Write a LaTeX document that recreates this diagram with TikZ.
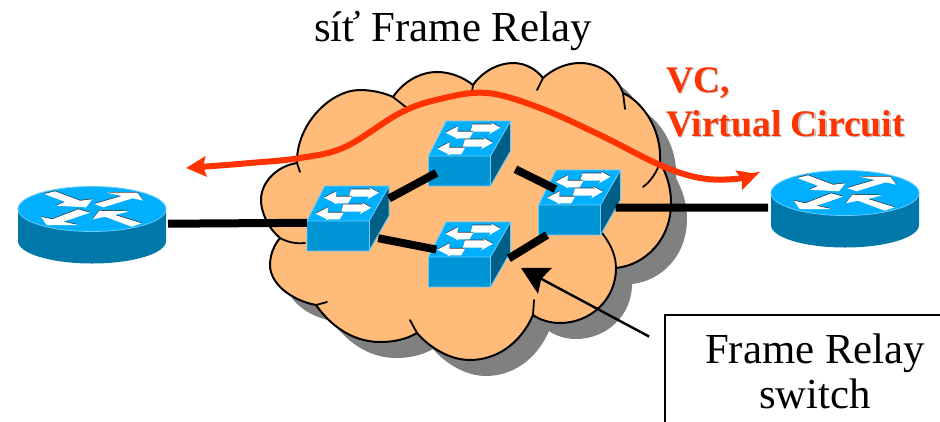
\documentclass[tikz,border=0pt]{standalone}
\usepackage{fontspec}
\setmainfont{Liberation Serif}
\usetikzlibrary{arrows.meta, positioning}
\definecolor{cloudfill}{HTML}{FFBB7A}
\definecolor{cloudshadow}{HTML}{808080}
\definecolor{vcred}{HTML}{FF3300}
\definecolor{icontop}{HTML}{00B0FF}
\definecolor{iconfront}{HTML}{0095D5}
\definecolor{iconside}{HTML}{005F87}
\definecolor{iconedge}{HTML}{66CCFF}
\definecolor{routerside}{HTML}{0078AA}
\tikzset{
  swbox/.style={rectangle, minimum width=82pt, minimum height=65pt, inner sep=0pt, outer sep=0pt},
  rtbox/.style={rectangle, minimum width=148pt, minimum height=77pt, inner sep=0pt, outer sep=0pt},
  link/.style={line width=8pt, black},
  curl/.style={line width=1.8pt, black, line cap=round},
  vcline/.style={line width=6pt, vcred, {Stealth[length=20pt,width=20pt,inset=3pt]}-{Stealth[length=20pt,width=20pt,inset=3pt]}},
  pointer/.style={line width=2.4pt, black, -{Stealth[length=27pt,width=29pt,inset=4pt]}},
  bigtext/.style={font=\fontsize{42.8}{45}\selectfont, align=center, inner sep=0pt},
  vctext/.style={font=\bfseries\fontsize{37.5}{44}\selectfont, align=left, inner sep=0pt, anchor=base west},
}
\newcommand{\cloudpath}{
  (297,163) .. controls (296,125) and (330,90) .. (360,90) .. controls (372,90) and (385,93) .. (393,97)
  .. controls (403,82) and (420,72) .. (437,72) .. controls (450,72) and (463,77) .. (473,85)
  .. controls (482,72) and (498,63) .. (513,63) .. controls (525,63) and (536,69) .. (543,78)
  .. controls (553,69) and (566,63) .. (580,63) .. controls (600,63) and (617,76) .. (623,93)
  .. controls (643,102) and (662,130) .. (660,162)
  .. controls (667,175) and (671,188) .. (671,203) .. controls (671,240) and (645,265) .. (616,268)
  .. controls (616,300) and (590,323) .. (560,323) .. controls (550,323) and (540,320) .. (533,315)
  .. controls (520,345) and (495,360) .. (470,360) .. controls (450,360) and (430,348) .. (417,333)
  .. controls (405,340) and (392,342) .. (380,342) .. controls (352,342) and (330,325) .. (316,305)
  .. controls (290,300) and (270,283) .. (270,265) .. controls (270,255) and (274,245) .. (280,238)
  .. controls (268,228) and (261,212) .. (261,200) .. controls (261,182) and (277,166) .. (297,163)
  -- cycle}
\newcommand{\swright}{(0,0)--(-10,-5.5)--(-8,-3.4)--(-28,-3.4)--(-30,3.8)--(-10,3.8)--(-12,6.8)--cycle}
\newcommand{\swleft}{(0,0)--(12.5,-6.5)--(12,-1.2)--(28,-1.2)--(24,5.7)--(10,5.7)--(13,6.5)--cycle}
\newcommand{\rtarrowa}{(-48,-31) -- (-37,-33.7) -- (-12,-24.3) -- (0.3,-25.7) -- (-6,-17.7) -- (-35.3,-19.3) -- (-27,-23.3) -- cycle}
\newcommand{\rtarrowb}{(14.7,-32.3) -- (45.3,-32.3) -- (51.3,-24.3) -- (40.7,-26.7) -- (11.3,-17.7) -- (2.3,-21) -- (29.7,-29) -- cycle}
\newcommand{\rtarrowc}{(-51,-8.3) -- (-39.7,-5.7) -- (-13.7,-15.7) -- (-2,-12.3) -- (-28.7,-3.3) -- (-13.7,0) -- (-45.3,0) -- cycle}
\newcommand{\rtarrowd}{(0.7,-5.7) -- (7.3,-14.3) -- (37.3,-13.7) -- (23,-10) -- (49.7,-1.7) -- (39.7,1.7) -- (13,-8.3) -- cycle}
\begin{document}
\begin{tikzpicture}[x=1pt, y=-1pt]
    \clip (0,0) rectangle (940,421);
    \fill[white] (0,0) rectangle (940,421);
    \fill[cloudshadow, xshift=16pt, yshift=-16pt] \cloudpath;
    \draw[line width=2pt, black, fill=cloudfill, line join=round] \cloudpath;
    \draw[curl] (297,163) -- (300,172);
    \draw[curl] (393,97) -- (407,108);
    \draw[curl] (473,85) -- (472,92);
    \draw[curl] (543,78) -- (537,90);
    \draw[curl] (623,93) -- (625,109);
    \draw[curl] (660,162) .. controls (657,172) and (651,181) .. (643,187);
    \draw[curl] (616,268) .. controls (616,255) and (610,243) .. (602,233);
    \draw[curl] (533,315) -- (534,300);
    \draw[curl] (417,333) -- (410,320);
    \draw[curl] (316,305) -- (327,302);
    \draw[curl] (280,238) .. controls (287,242) and (296,244) .. (305,243);
    \foreach \nm/\px/\py in {swa/348/218.5, swb/469.5/153.5, swc/579.5/202.5, swd/469.5/254.5} {
      \node[swbox] (\nm) at (\px,\py) {};
      \begin{scope}[shift={(\px,\py)}]
        \fill[icontop] (-23.3,-32.5) -- (41,-32.5) -- (21,2.5) -- (-41,2.5) -- cycle;
        \fill[iconside] (41,-32.5) -- (41,-2.5) -- (21,32.5) -- (21,2.5) -- cycle;
        \fill[iconfront] (-41,2.5) rectangle (21,32.5);
        \draw[iconedge, line width=0.9pt, line join=round] (-41,2.5) -- (-23.3,-32.5) -- (41,-32.5) -- (41,-2.5) -- (21,32.5) -- (-41,32.5) -- cycle;
        \draw[iconedge, line width=0.9pt] (-41,2.5) -- (21,2.5) -- (41,-32.5);
        \draw[iconedge, line width=0.9pt] (21,2.5) -- (21,32.5);
        \foreach \tx/\ty in {31/-25.8, 23.3/-10.8} {
          \fill[black!80, yshift=0.7pt, shift={(\tx,\ty)}] \swright;
          \fill[white, shift={(\tx,\ty)}] \swright;
        }
        \foreach \tx/\ty in {-24/-20.8, -32.3/-4.8} {
          \fill[black!80, yshift=0.7pt, shift={(\tx,\ty)}] \swleft;
          \fill[white, shift={(\tx,\ty)}] \swleft;
        }
      \end{scope}
    }
    \foreach \nm/\px/\py in {rtl/92/225, rtr/845/209} {
      \node[rtbox] (\nm) at (\px,\py) {};
      \begin{scope}[shift={(\px,\py)}]
        \fill[routerside] (-74,-16) -- (-74,16) arc[start angle=180, end angle=360, x radius=74, y radius=-22.5] -- (74,-16) -- cycle;
        \fill[icontop] (0,-16) ellipse[x radius=74, y radius=22.5];
        \draw[iconedge, line width=0.8pt] (0,-16) ellipse[x radius=74, y radius=22.5];
        \foreach \arrowshape in {\rtarrowa, \rtarrowb, \rtarrowc, \rtarrowd} {
          \fill[black!80, yshift=0.7pt] \arrowshape;
          \fill[white] \arrowshape;
        }
      \end{scope}
    }
    \draw[link, shorten <=2pt] (rtl.1.5) -- (swa.186.3);
    \draw[link, shorten >=-9pt] (swa.26) -- (swb.210.8);
    \draw[link, shorten <=5.5pt, shorten >=-19pt] (swb.-18.5) -- (swc.152.3);
    \draw[link, shorten <=-11pt, shorten >=-8pt] (swa.-28) -- (swd.171.5);
    \draw[link, shorten <=-2pt] (swd.-4.5) -- (swc.225.9);
    \draw[link, shorten <=-5pt, shorten >=3pt] (swc.-7.5) -- (rtr.179.2);
    \draw[vcline] plot[smooth, tension=0.6] coordinates {(186,168) (250,163) (300,158) (345,147) (400,113) (440,99) (487,93) (540,108) (600,135) (660,165) (700,178) (735,179) (758,174)};
    \node[bigtext, anchor=base] (title) at (453,41) {síť Frame Relay};
    \node[vctext, text=gray!45, xshift=1.5pt, yshift=-1.5pt] (vcshade) at (666,136) {VC,\\Virtual Circuit};
    \node[vctext, text=vcred] (vclabel) at (666,136) {VC,\\Virtual Circuit};
    \node[rectangle, draw=black, line width=2.8pt, minimum width=300pt, minimum height=200pt, anchor=north, outer sep=0pt] (swnote) at (815,315) {};
    \node[bigtext, anchor=base] (swtext) at (815,408) {Frame Relay\\switch};
    \coordinate (ptr) at (521,268);
    \draw[pointer, shorten <=18pt] (swnote.155.8) -- (ptr);
\end{tikzpicture}
\end{document}
